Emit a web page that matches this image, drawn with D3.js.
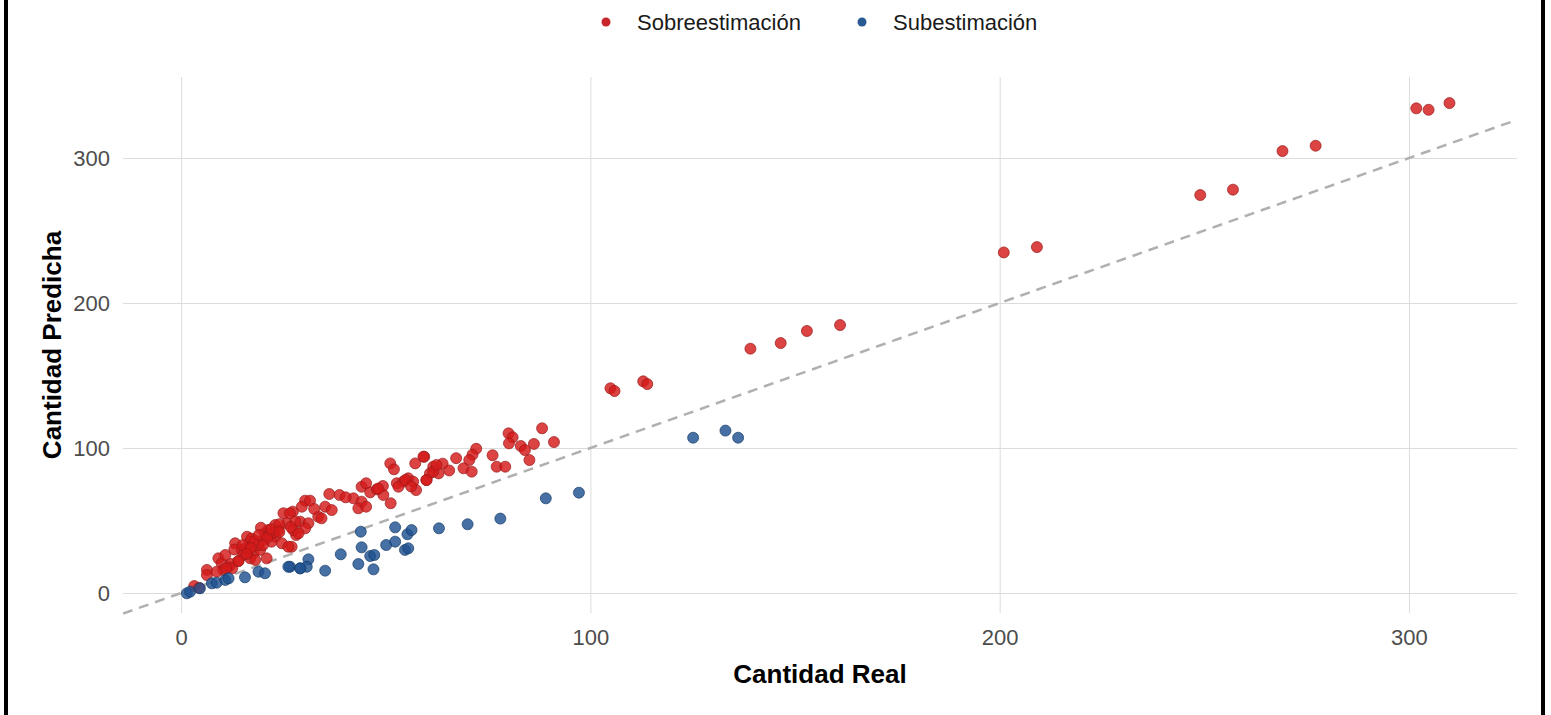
<!DOCTYPE html>
<html>
<head>
<meta charset="utf-8">
<script src="https://cdn.jsdelivr.net/npm/d3@7"></script>
<style>
  body { margin: 0; background: #fff; }
  text { font-family: "Liberation Sans", Arial, sans-serif; }
</style>
</head>
<body>
<div id="chart"></div>
<script>
// Sobreestimacion (predicha > real)
var overReal = [301.8, 304.8, 309.9, 277.2, 269.1, 257.0, 249.0, 209.1, 201.0,
  139.1, 146.5, 152.9, 161.0, 104.9, 105.9, 112.9, 113.9,
  59.4, 61.6, 63.9, 60.8, 62.9, 59.9, 72.1, 71.2, 70.4, 69.0, 71.0, 76.1, 77.1, 79.2,
  80.0, 81.0, 80.1, 83.0, 84.0, 85.1, 86.2, 88.2, 91.1,
  27.3, 30.3, 31.5, 29.1, 31.1, 30.3, 28.1, 27.0, 33.5, 34.3, 35.2, 36.8, 36.2, 38.7,
  42.1, 44.1, 43.3, 45.2, 44.1, 45.2, 46.2, 49.3, 49.4, 51.2, 51.1, 52.0, 52.7, 54.3,
  55.5, 56.7, 57.4, 57.2, 59.2, 60.0, 61.6, 62.4, 53.1,
  3.2, 4.4, 6.3, 6.3, 9.1, 9.9, 10.8, 10.3, 11.6, 8.7, 13.2, 14.8, 16.1, 16.9, 16.4,
  17.6, 16.9, 18.1, 15.2, 19.3, 20.1, 20.5, 21.3, 20.9, 23.0, 23.8, 22.1, 24.6, 26.2,
  25.0, 26.6, 25.8, 27.9, 27.4, 28.7, 29.5, 23.0, 12.2, 14.0, 18.8, 21.8, 19.5, 22.6,
  17.2, 15.8, 12.5, 24.0, 26.8, 32.5, 40.2, 47.8, 54.8, 56.2, 48.2, 65.5, 67.2,
  13.0, 15.0, 18.0, 19.0, 21.0, 22.0, 24.0, 17.0, 14.0, 11.0, 20.0, 16.0];
var overPred = [334.3, 333.3, 337.9, 308.5, 304.8, 278.2, 274.5, 238.6, 234.9,
  168.5, 172.4, 180.7, 184.8, 141.2, 139.3, 146.0, 144.1,
  94.0, 87.1, 89.2, 82.5, 82.5, 77.9, 99.5, 95.4, 91.7, 86.0, 83.7, 95.0, 87.1, 87.1,
  110.1, 107.4, 103.2, 101.4, 98.6, 91.7, 102.8, 113.6, 104.1,
  56.1, 63.7, 63.7, 49.2, 48.1, 44.6, 40.0, 31.9, 52.6, 51.5, 59.5, 57.2, 68.3, 67.6,
  65.3, 63.0, 58.4, 59.5, 73.3, 75.7, 69.4, 73.8, 67.6, 61.9, 89.4, 85.3, 75.7, 76.8,
  79.1, 76.8, 71.0, 89.4, 94.0, 77.9, 83.7, 88.3, 73.3,
  4.8, 3.6, 15.9, 12.4, 23.9, 20.5, 26.2, 15.9, 18.1, 14.7, 34.3, 29.7, 38.8, 35.4, 29.7,
  27.4, 23.9, 22.8, 26.2, 29.7, 36.6, 41.2, 43.4, 23.9, 38.8, 43.4, 35.4, 34.3, 31.9,
  55.0, 55.0, 48.1, 49.2, 43.4, 41.2, 59.5, 46.9, 20.0, 22.0, 33.0, 40.5, 45.0, 41.5,
  37.5, 31.0, 17.0, 47.5, 45.5, 58.0, 66.0, 71.5, 78.0, 73.5, 72.0, 84.5, 93.0,
  30.0, 33.0, 36.0, 40.0, 38.0, 44.0, 42.0, 31.0, 22.0, 17.0, 33.0, 27.0];

// Subestimacion (predicha < real)
var underReal = [125.1, 133.0, 136.1, 63.0, 70.0, 78.0, 89.1, 97.2,
  43.9, 52.3, 55.3, 56.3, 44.1, 50.1, 52.3, 54.7, 55.5, 46.2, 47.2, 43.3, 47.0, 39.0,
  35.2, 31.1, 30.7, 29.1, 26.6,
  1.4, 2.2, 4.6, 7.5, 8.7, 10.8, 11.6, 15.6, 18.9, 20.5, 26.2, 29.1];
var underPred = [107.1, 112.0, 107.1, 44.6, 47.4, 51.3, 65.3, 69.2,
  42.3, 45.3, 40.5, 43.4, 31.5, 33.1, 35.4, 29.7, 30.8, 25.5, 26.2, 20.0, 16.3, 26.7,
  15.4, 23.2, 18.1, 17.0, 18.1,
  -0.2, 0.9, 3.2, 6.7, 7.1, 9.0, 10.1, 10.8, 14.7, 13.6, 18.1, 17.0];

var xTicks = [0, 100, 200, 300];
var yTicks = [0, 100, 200, 300];
var legendLabels = ["Sobreestimación", "Subestimación"];
var legendColors = ["#c9262c", "#2a5a92"];

var W = 1551, H = 715;
var pLeft = 123, pRight = 1517, pTop = 77, pBottom = 613;

var svg = d3.select("#chart").append("svg")
    .attr("width", W)
    .attr("height", H);

var x = d3.scaleLinear().domain([-14.2, 326.4]).range([pLeft, pRight]);
var y = d3.scaleLinear().domain([-13.8, 355.9]).range([pBottom, pTop]);

// grid via axes
var gx = svg.append("g")
    .attr("transform", "translate(0," + pBottom + ")")
    .call(d3.axisBottom(x).tickValues(xTicks).tickSize(-(pBottom - pTop)).tickPadding(16).tickFormat(d3.format("d")));
var gy = svg.append("g")
    .attr("transform", "translate(" + pLeft + ",0)")
    .call(d3.axisLeft(y).tickValues(yTicks).tickSize(-(pRight - pLeft)).tickPadding(13).tickFormat(d3.format("d")));

[gx, gy].forEach(function(g){
    g.select(".domain").remove();
    g.selectAll(".tick line").attr("stroke", "#dcdcdc").attr("stroke-width", 1);
    g.selectAll(".tick text")
        .attr("fill", "#4d4d4d")
        .attr("font-size", "22px");
});

// identity line
svg.append("clipPath").attr("id", "clip")
    .append("rect").attr("x", pLeft).attr("y", pTop).attr("width", pRight - pLeft).attr("height", pBottom - pTop + 4);

var dom = x.domain();
svg.append("line")
    .attr("clip-path", "url(#clip)")
    .attr("x1", x(dom[0])).attr("y1", y(dom[0]))
    .attr("x2", x(dom[1])).attr("y2", y(dom[1]))
    .attr("stroke", "#b0b0b0")
    .attr("stroke-width", 2.5)
    .attr("stroke-dasharray", "10,7");

function drawPts(xs, ys, fill, edge){
    svg.append("g").selectAll("circle")
        .data(xs.map(function(v, i){ return [v, ys[i]]; }))
        .enter().append("circle")
        .attr("cx", function(d){ return x(d[0]); })
        .attr("cy", function(d){ return y(d[1]); })
        .attr("r", 5.5)
        .attr("fill", fill)
        .attr("fill-opacity", 0.82)
        .attr("stroke", edge)
        .attr("stroke-opacity", 0.7)
        .attr("stroke-width", 1);
}
drawPts(overReal, overPred, "#d41a1a", "#9a1a1a");
drawPts(underReal, underPred, "#1f5290", "#163c6a");

// axis titles
svg.append("text")
    .attr("x", (pLeft + pRight) / 2)
    .attr("y", 683)
    .attr("text-anchor", "middle")
    .attr("font-size", "26px")
    .attr("font-weight", "bold")
    .text("Cantidad Real");

svg.append("text")
    .attr("transform", "translate(61," + ((pTop + pBottom) / 2) + ") rotate(-90)")
    .attr("text-anchor", "middle")
    .attr("font-size", "26px")
    .attr("font-weight", "bold")
    .text("Cantidad Predicha");

// legend
var legX = [606, 862];
var leg = svg.append("g").selectAll("g")
    .data(legendLabels)
    .enter().append("g");
leg.append("circle")
    .attr("cx", function(d, i){ return legX[i]; })
    .attr("cy", 22)
    .attr("r", 4.5)
    .attr("fill", function(d, i){ return legendColors[i]; });
leg.append("text")
    .attr("x", function(d, i){ return legX[i] + 31; })
    .attr("y", 30)
    .attr("font-size", "22px")
    .attr("fill", "#1a1a1a")
    .text(function(d){ return d; });

// frame sides
svg.append("rect").attr("x", 4).attr("y", 0).attr("width", 4).attr("height", H).attr("fill", "#000");
svg.append("rect").attr("x", 1541).attr("y", 0).attr("width", 4).attr("height", H).attr("fill", "#000");
</script>
</body>
</html>
